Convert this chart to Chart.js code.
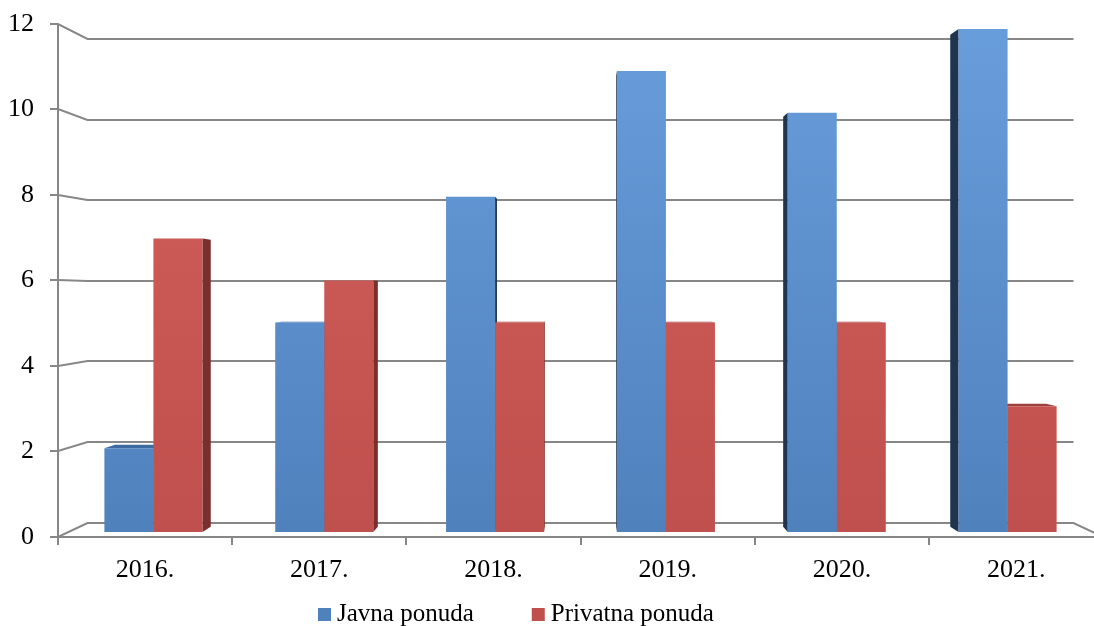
<!DOCTYPE html>
<html>
<head>
<meta charset="utf-8">
<script src="https://cdn.jsdelivr.net/npm/chart.js@4"></script>
<style>
html, body { margin: 0; padding: 0; background: #fff; }
</style>
</head>
<body>
<canvas id="chart1" width="1094" height="626"></canvas>
<script>
const years = ['2016.', '2017.', '2018.', '2019.', '2020.', '2021.'];
const javna = [2, 5, 8, 11, 10, 12];
const privatna = [7, 6, 5, 5, 5, 3];
const seriesNames = ['Javna ponuda', 'Privatna ponuda'];
const yMax = 12;
const yStep = 2;

// fake 3d: planes are scaled toward a vanishing point
const FRONT = 1.02, WALL = 0.962, BAR_BACK = 0.978, HORIZON = 5.8;
const AXIS_FONT = '26px "Liberation Serif", "Times New Roman", serif';
const LEGEND_FONT = '25px "Liberation Serif", "Times New Roman", serif';
const LINE = '#878787';

const colors = {
  javna: { lo: '#4f81bd', hi: '#689ddb', side: '#1f344f', top: '#3d6a9f' },
  privatna: { lo: '#c0504d', hi: '#d35f5c', side: '#7a2f2e', top: '#9e403e' }
};

function persp(v, p, f) { return v + f * (p - v); }

function grad(c) {
  return function(ctx) {
    const ca = ctx.chart.chartArea;
    if (!ca) return c.lo;
    const g = ctx.chart.ctx.createLinearGradient(0, ca.bottom, 0, ca.top);
    g.addColorStop(0, c.lo);
    g.addColorStop(1, c.hi);
    return g;
  };
}

const fake3d = {
  id: 'fake3d',
  beforeDatasetsDraw(chart) {
    const c = chart.ctx, ca = chart.chartArea;
    const x = chart.scales.x, y = chart.scales.y;
    const vx = (ca.left + ca.right) / 2;
    const vy = y.getPixelForValue(HORIZON);
    const fL = Math.round(persp(vx, ca.left, FRONT)), fR = persp(vx, ca.right, FRONT);
    const bL = persp(vx, ca.left, WALL), bR = persp(vx, ca.right, WALL);

    c.save();
    c.strokeStyle = LINE;
    c.lineWidth = 2;
    c.fillStyle = '#000';
    c.font = AXIS_FONT;

    // walls + y axis
    for (let v = 0; v <= yMax; v += yStep) {
      const p = y.getPixelForValue(v);
      const yf = Math.round(persp(vy, p, FRONT)), yb = Math.round(persp(vy, p, WALL));
      c.beginPath();
      c.moveTo(fL - 8, yf);
      c.lineTo(fL, yf);
      c.lineTo(bL, yb);
      c.lineTo(bR, yb);
      if (v === 0) c.lineTo(fR, yf);
      c.stroke();
      c.textAlign = 'right';
      c.textBaseline = 'middle';
      c.fillText(String(v), fL - 24, yf);
    }
    const y0 = Math.round(persp(vy, y.getPixelForValue(0), FRONT));
    const yTop = Math.round(persp(vy, y.getPixelForValue(yMax), FRONT));
    c.beginPath();
    c.moveTo(fL, yTop);
    c.lineTo(fL, y0);
    c.lineTo(fR, y0);
    c.stroke();

    // category ticks + labels
    const n = years.length;
    for (let i = 0; i <= n; i++) {
      const bx = Math.round(persp(vx, ca.left + i * (ca.right - ca.left) / n, FRONT));
      c.beginPath();
      c.moveTo(bx, y0);
      c.lineTo(bx, y0 + 8);
      c.stroke();
    }
    c.textAlign = 'center';
    c.textBaseline = 'alphabetic';
    years.forEach((lab, i) => {
      c.fillText(lab, persp(vx, x.getPixelForValue(i), FRONT), 577);
    });

    // side and top faces of the bars
    const faces = [colors.javna, colors.privatna];
    chart.data.datasets.forEach((ds, di) => {
      const meta = chart.getDatasetMeta(di);
      meta.data.forEach(el => {
        const p = el.getProps(['x', 'y', 'base', 'width'], true);
        const l = p.x - p.width / 2, r = p.x + p.width / 2;
        const t = p.y, b = p.base;
        const t2 = persp(vy, t, BAR_BACK), b2 = persp(vy, b, BAR_BACK);
        const l2 = persp(vx, l, BAR_BACK), r2 = persp(vx, r, BAR_BACK);
        c.fillStyle = faces[di].side;
        if (r < vx) {
          c.beginPath();
          c.moveTo(r, t); c.lineTo(r2, t2); c.lineTo(r2, b2); c.lineTo(r, b);
          c.closePath(); c.fill();
        } else if (l > vx) {
          c.beginPath();
          c.moveTo(l, t); c.lineTo(l2, t2); c.lineTo(l2, b2); c.lineTo(l, b);
          c.closePath(); c.fill();
        }
        if (t > vy) {
          c.fillStyle = faces[di].top;
          c.beginPath();
          c.moveTo(l, t); c.lineTo(r, t); c.lineTo(r2, t2); c.lineTo(l2, t2);
          c.closePath(); c.fill();
        }
      });
    });
    c.restore();
  },
  afterDraw(chart) {
    // legend
    const c = chart.ctx;
    c.save();
    c.font = LEGEND_FONT;
    c.textAlign = 'left';
    c.textBaseline = 'alphabetic';
    const sq = 13, gap = 6, spacing = 58;
    const widths = seriesNames.map(s => c.measureText(s).width);
    const total = widths.reduce((a, w) => a + sq + gap + w, 0) + spacing;
    let lx = Math.round(516 - total / 2);
    const fills = [colors.javna.lo, colors.privatna.lo];
    seriesNames.forEach((s, i) => {
      c.fillStyle = fills[i];
      c.fillRect(lx, 608, sq, sq);
      c.fillStyle = '#000';
      c.fillText(s, lx + sq + gap, 621);
      lx += sq + gap + widths[i] + spacing;
    });
    c.restore();
  }
};

const ctx = document.getElementById('chart1').getContext('2d');
const chart1 = new Chart(ctx, {
  type: 'bar',
  data: {
    labels: years,
    datasets: [{
      label: seriesNames[0],
      data: javna,
      backgroundColor: grad(colors.javna)
    }, {
      label: seriesNames[1],
      data: privatna,
      backgroundColor: grad(colors.privatna)
    }]
  },
  options: {
    responsive: false,
    animation: false,
    layout: { padding: { left: 68, right: 1, top: 29, bottom: 94 } },
    datasets: { bar: { categoryPercentage: 0.574, barPercentage: 1 } },
    scales: {
      x: { display: false },
      y: { display: false, min: 0, max: yMax }
    },
    plugins: {
      legend: { display: false },
      tooltip: { enabled: false }
    }
  },
  plugins: [fake3d]
});
</script>
</body>
</html>
